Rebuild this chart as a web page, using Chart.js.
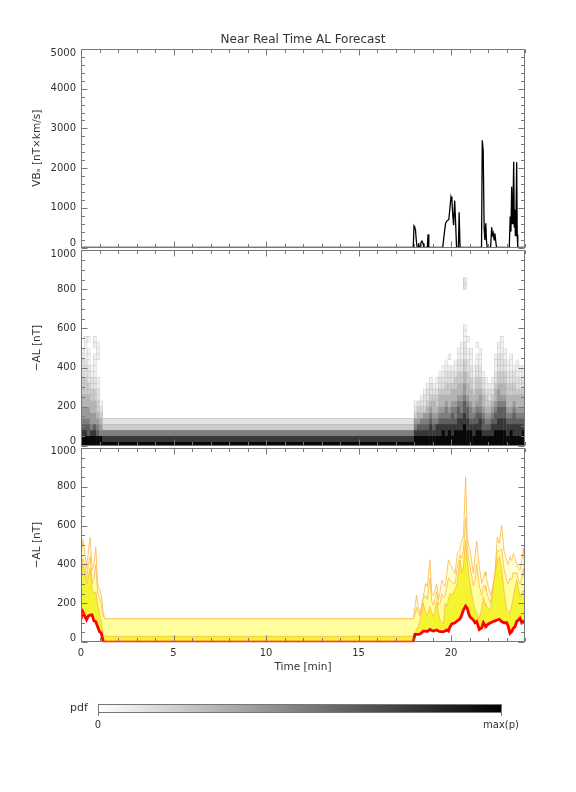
<!DOCTYPE html>
<html><head><meta charset="utf-8">
<script src="https://cdn.jsdelivr.net/npm/chart.js@4.4.1/dist/chart.umd.min.js"></script>
<style>
html,body{margin:0;padding:0;background:#fff;}
#wrap{position:relative;width:576px;height:792px;overflow:hidden;font-family:"DejaVu Sans",sans-serif;color:#222;}
canvas{position:absolute;left:0;top:0;}
.t{position:absolute;white-space:nowrap;}
</style></head><body>
<div id="wrap">
<canvas id="c1" width="576" height="792"></canvas>
<canvas id="c2" width="576" height="792"></canvas>
<canvas id="c3" width="576" height="792"></canvas>
<div class="t" style="left:0;width:606px;text-align:center;top:32px;font-size:12px;line-height:14px;color:#333;">Near Real Time AL Forecast</div>
<div style="position:absolute;left:98px;top:704px;width:404px;height:9px;box-sizing:border-box;border:1px solid #777;background:linear-gradient(to right,#fff,#000);"></div>
<div style="position:absolute;left:98px;top:712px;width:1px;height:4px;background:#777;"></div>
<div style="position:absolute;left:501px;top:712px;width:1px;height:4px;background:#777;"></div>
<div class="t" style="left:70px;top:701px;font-size:11px;line-height:13px;color:#333;">pdf</div>
<div class="t" style="left:78px;width:40px;text-align:center;top:719px;font-size:10px;line-height:12px;color:#333;">0</div>
<div class="t" style="left:461px;width:80px;text-align:center;top:719px;font-size:10px;line-height:12px;color:#333;">max(p)</div>
</div>
<script>
// ---------------- DATA ----------------
const timeTicks = [0, 5, 10, 15, 20];
const vbsTicks = [0, 1000, 2000, 3000, 4000, 5000];
const alTicks = [0, 200, 400, 600, 800, 1000];

// Panel 1: VBs [nT x km/s] vs time [min]
const vbsTime = [0, 17.96, 18.00, 18.04, 18.08, 18.12, 18.17, 18.22, 18.25, 18.29, 18.33, 18.37, 18.43, 18.49, 18.54, 18.72, 18.76, 18.80, 19.55, 19.65, 19.71, 19.80, 19.88, 19.95, 20.00, 20.05, 20.10, 20.14, 20.20, 20.26, 20.30, 20.40, 20.44, 20.49, 21.65, 21.69, 21.74, 21.79, 21.83, 21.88, 21.92, 21.96, 22.14, 22.20, 22.24, 22.28, 22.33, 22.37, 22.42, 22.46, 23.15, 23.20, 23.24, 23.28, 23.31, 23.35, 23.39, 23.42, 23.45, 23.48, 23.51, 23.55, 23.58, 23.61, 24.0];
const vbsValue = [0, 0, 540, 500, 450, 200, 0, 0, 110, 0, 0, 120, 160, 100, 0, 0, 330, 0, 0, 400, 610, 680, 700, 1030, 1280, 1200, 780, 560, 1180, 500, 0, 0, 890, 0, 0, 2700, 2450, 520, 190, 610, 150, 0, 0, 510, 320, 370, 190, 360, 150, 0, 0, 780, 400, 1530, 600, 1030, 2160, 520, 950, 300, 690, 2150, 330, 0, 0];

// Panel 2: pdf of -AL, columns (seconds) x AL bins, gray level 0 (empty) .. 9 (max)
const alBinCenter = [5, 35, 65, 95, 125, 155, 185, 215, 245, 275, 305, 335, 365, 395, 425, 455, 485, 515, 545, 575, 605, 635, 665, 695, 725, 755, 785, 815, 845, 875, 905, 935, 965, 995];
const pdfColStart = [0, 10, 20, 30, 40, 50, 60, 70, 1080, 1090, 1100, 1110, 1120, 1130, 1140, 1150, 1160, 1170, 1180, 1190, 1200, 1210, 1220, 1230, 1240, 1250, 1260, 1270, 1280, 1290, 1300, 1310, 1320, 1330, 1340, 1350, 1360, 1370, 1380, 1390, 1400, 1410, 1420, 1430];
const pdfColEnd = [10, 20, 30, 40, 50, 60, 70, 1080, 1090, 1100, 1110, 1120, 1130, 1140, 1150, 1160, 1170, 1180, 1190, 1200, 1210, 1220, 1230, 1240, 1250, 1260, 1270, 1280, 1290, 1300, 1310, 1320, 1330, 1340, 1350, 1360, 1370, 1380, 1390, 1400, 1410, 1420, 1430, 1440];
const pdfLevels = [
  "99876554433322211",
  "9987655443332221111",
  "9977655443322211101",
  "99865544332211",
  "9987554433221111011",
  "997654332211000111",
  "99654321",
  "98632",
  "99865321",
  "99875432",
  "998764321",
  "9987653221",
  "99876543221",
  "998876543221",
  "99876544321",
  "998865433211",
  "9988765443221",
  "99987654432211",
  "998876654332211",
  "9998765443322101",
  "99887765443221",
  "999876654433211",
  "99988776544332211",
  "999887665443322111",
  "99998877655443322211100000022",
  "9998877654433221101",
  "99987665443322111",
  "99887654432211",
  "999877654433221101",
  "99988765543322111",
  "9987765443221",
  "998765433211",
  "99876543221",
  "998876543211",
  "9998776544322111",
  "999887765543322211",
  "9998877654433222111",
  "99988776544332211",
  "998876544332211",
  "9998765443322111",
  "99887765433221",
  "998876544322111",
  "99887654432211",
  "99987654432211"
];

// Panel 3: -AL forecast quantile curves [nT] vs time [min]
const alTime = [0, 0.1, 0.2, 0.3, 0.4, 0.5, 0.6, 0.7, 0.8, 0.9, 1.0, 1.1, 1.2, 1.3,
  17.96, 18.05, 18.14, 18.23, 18.32, 18.41, 18.50, 18.63, 18.72, 18.86,
  18.96, 19.05, 19.14, 19.23, 19.32, 19.41, 19.50, 19.59, 19.68, 19.77,
  19.86, 19.95, 20.04, 20.22, 20.34, 20.49, 20.58, 20.67, 20.79, 20.88,
  20.95, 21.03, 21.21, 21.30, 21.39, 21.53, 21.66, 21.75, 21.84, 21.89,
  22.02, 22.14, 22.29, 22.38, 22.50, 22.61, 22.74, 22.86, 23.01, 23.10,
  23.19, 23.28, 23.37, 23.46, 23.55, 23.64, 23.73, 23.82, 23.91, 24.00];
const alLow = [120, 155, 135, 115, 135, 140, 140, 110, 105, 80, 55, 45, 5, 0,
  0, 40, 40, 40, 42, 48, 57, 57, 55, 66,
  60, 57, 60, 63, 58, 54, 54, 54, 58, 63,
  57, 80, 94, 100, 110, 120, 140, 165, 186, 174,
  149, 130, 114, 100, 106, 65, 74, 100, 85, 83,
  94, 100, 106, 110, 114, 118, 106, 100, 100, 80,
  46, 54, 71, 80, 106, 114, 123, 100, 108, 106];
const alQ1 = [330, 400, 360, 300, 340, 380, 270, 250, 260, 190, 150, 100, 40, 30,
  30, 45, 63, 80, 110, 150, 200, 150, 140, 183,
  150, 131, 170, 208, 150, 114, 105, 97, 200, 183,
  220, 251, 240, 270, 303, 423, 354, 388, 525, 420,
  360, 303, 200, 170, 148, 120, 170, 234, 200, 183,
  175, 166, 286, 350, 420, 440, 380, 268, 166, 155,
  148, 190, 234, 280, 320, 280, 234, 250, 268, 230];
const alQ2 = [380, 430, 400, 330, 400, 440, 300, 330, 400, 250, 230, 200, 130, 120,
  120, 140, 180, 150, 135, 170, 220, 240, 220, 330,
  210, 190, 220, 260, 190, 200, 250, 230, 240, 280,
  330, 320, 310, 300, 380, 450, 430, 470, 640, 480,
  430, 390, 290, 320, 400, 290, 240, 290, 290, 270,
  230, 200, 295, 352, 470, 470, 480, 380, 320, 300,
  330, 320, 360, 350, 360, 320, 300, 330, 380, 300];
const alQ3 = [430, 530, 470, 380, 470, 540, 370, 400, 490, 300, 270, 240, 150, 120,
  120, 180, 243, 183, 148, 190, 234, 303, 286, 423,
  251, 240, 268, 300, 217, 260, 320, 300, 286, 350,
  423, 400, 388, 354, 457, 474, 525, 543, 851, 543,
  500, 474, 354, 440, 520, 388, 303, 330, 362, 340,
  286, 240, 300, 354, 540, 508, 603, 474, 423, 400,
  440, 420, 457, 430, 405, 380, 371, 420, 483, 354];

// ---------------- STYLE / HELPERS ----------------
Chart.defaults.font.family = '"DejaVu Sans", sans-serif';
Chart.defaults.font.size = 10;
Chart.defaults.color = '#333';
const GRAYS = ['#ffffff', '#f2f2f2', '#e3e3e3', '#cdcdcd', '#b4b4b4', '#9a9a9a', '#7e7e7e', '#5e5e5e', '#383838', '#080808'];
const EDGES = ['#ffffff', '#d2d2d2', '#c6c6c6', '#b8b8b8', '#b4b4b4', '#9a9a9a', '#7e7e7e', '#5e5e5e', '#383838', '#080808'];
const FRAME = '#777777';

const idlFrame = {
  id: 'idlFrame',
  afterDraw(chart, args, o) {
    const {ctx, chartArea: a} = chart;
    const xs = chart.scales.x, ys = chart.scales.y;
    ctx.save();
    ctx.strokeStyle = FRAME; ctx.lineWidth = 1;
    const L = Math.round(a.left) + 0.5, R = Math.round(a.right) - 0.5;
    const T = Math.round(a.top) + 0.5, B = Math.round(a.bottom) - 0.5;
    ctx.beginPath();
    ctx.rect(L, T, R - L, B - T);
    const nx = Math.round((xs.max - xs.min) / o.xMinor);
    for (let i = 0; i <= nx; i++) {
      const v = xs.min + i * o.xMinor;
      const px = Math.round(xs.getPixelForValue(v)) + 0.5;
      const len = Math.abs(v / o.xMajor - Math.round(v / o.xMajor)) < 1e-6 ? 6 : 3.5;
      ctx.moveTo(px, B); ctx.lineTo(px, B - len);
      ctx.moveTo(px, T); ctx.lineTo(px, T + len);
    }
    const ny = Math.round((ys.max - ys.min) / o.yMinor);
    for (let i = 0; i <= ny; i++) {
      const v = ys.min + i * o.yMinor;
      const py = Math.round(ys.getPixelForValue(v)) + 0.5;
      const len = Math.abs(v / o.yMajor - Math.round(v / o.yMajor)) < 1e-6 ? 6 : 3.5;
      ctx.moveTo(L, py); ctx.lineTo(L + len, py);
      ctx.moveTo(R, py); ctx.lineTo(R - len, py);
    }
    ctx.stroke();
    ctx.restore();
  }
};

function yAxis(min, max, ticks, title) {
  return {
    type: 'linear', min, max, offset: false,
    afterBuildTicks: s => { s.ticks = ticks.map(v => ({value: v})); },
    afterFit: s => { s.width = 81; },
    grid: {display: false, drawTicks: false, offset: false},
    border: {display: false},
    ticks: {
      padding: 5, color: '#333', font: {size: 10, lineHeight: 0.8},
      callback: (v, i, arr) => i === arr.length - 1 ? ['', String(v)] : (i === 0 ? [String(v), ''] : String(v))
    },
    title: {display: true, text: title, color: '#333', font: {size: 10.5}, padding: {top: 31, bottom: 0}}
  };
}
const common = {responsive: false, animation: false, devicePixelRatio: 1, events: []};

// ---------------- PANEL 1 ----------------
new Chart(document.getElementById('c1'), {
  type: 'line',
  data: {datasets: [{
    data: vbsTime.map((t, i) => ({x: t, y: vbsValue[i]})),
    borderColor: '#000', borderWidth: 1.3, pointRadius: 0, tension: 0
  }]},
  options: Object.assign({}, common, {
    layout: {padding: {left: 0, right: 51, top: 49, bottom: 792 - 247.5}},
    plugins: {legend: {display: false}, tooltip: {enabled: false},
      idlFrame: {xMinor: 1, xMajor: 5, yMinor: 200, yMajor: 1000}},
    scales: {
      x: {type: 'linear', min: 0, max: 24, display: false},
      y: yAxis(0, 5000, vbsTicks, 'VBₛ [nT×km/s]')
    }
  }),
  plugins: [idlFrame]
});

// ---------------- PANEL 2 (pdf image) ----------------
const cells = [], cellColors = [], cellEdges = [];
pdfLevels.forEach((col, ci) => {
  for (let b = 0; b < col.length; b++) {
    const lvl = +col[b];
    if (lvl === 0) continue;
    cells.push({x: [pdfColStart[ci] / 60, pdfColEnd[ci] / 60], y: alBinCenter[b]});
    cellColors.push(GRAYS[lvl]);
    cellEdges.push(EDGES[lvl]);
  }
});
new Chart(document.getElementById('c2'), {
  type: 'bar',
  data: {datasets: [{
    data: cells, backgroundColor: cellColors, borderColor: cellEdges, borderWidth: 0.7, borderSkipped: false,
    barPercentage: 1, categoryPercentage: 1, grouped: false
  }]},
  options: Object.assign({}, common, {
    indexAxis: 'y',
    layout: {padding: {left: 0, right: 51, top: 250.2, bottom: 792 - 445.8}},
    plugins: {legend: {display: false}, tooltip: {enabled: false},
      idlFrame: {xMinor: 1, xMajor: 5, yMinor: 50, yMajor: 200}},
    scales: {
      x: {type: 'linear', min: 0, max: 24, display: false},
      y: yAxis(0, 1000, alTicks, '−AL [nT]')
    }
  }),
  plugins: [idlFrame]
});

// ---------------- PANEL 3 ----------------
const pts = arr => alTime.map((t, i) => ({x: t, y: arr[i]}));
const ORANGE = '#ffb64a';
new Chart(document.getElementById('c3'), {
  type: 'line',
  data: {datasets: [
    {data: pts(alLow), borderColor: '#ff0000', borderWidth: 2.8, pointRadius: 0, fill: false},
    {data: pts(alQ1), borderColor: ORANGE, borderWidth: 0.8, pointRadius: 0, fill: '-1', backgroundColor: '#f4f430'},
    {data: pts(alQ2), borderColor: ORANGE, borderWidth: 0.8, pointRadius: 0, fill: '-1', backgroundColor: '#ffff9e'},
    {data: pts(alQ3), borderColor: ORANGE, borderWidth: 0.8, pointRadius: 0, fill: '-1', backgroundColor: '#ffffd6'}
  ]},
  options: Object.assign({}, common, {
    layout: {padding: {left: 0, right: 51, top: 447.8, bottom: 118.8}},
    plugins: {legend: {display: false}, tooltip: {enabled: false}, filler: {propagate: false},
      idlFrame: {xMinor: 1, xMajor: 5, yMinor: 50, yMajor: 200}},
    scales: {
      x: {type: 'linear', min: 0, max: 24,
        afterBuildTicks: s => { s.ticks = timeTicks.map(v => ({value: v})); },
        afterFit: s => { s.height = 31; },
        grid: {display: false, drawTicks: false}, border: {display: false},
        ticks: {padding: 5, autoSkip: false, maxRotation: 0, color: '#333', font: {size: 10}},
        title: {display: true, text: 'Time [min]', color: '#333', font: {size: 10.5}, padding: {top: 0, bottom: 0}}
      },
      y: yAxis(0, 1000, alTicks, '−AL [nT]')
    }
  }),
  plugins: [idlFrame]
});
</script>
</body></html>
